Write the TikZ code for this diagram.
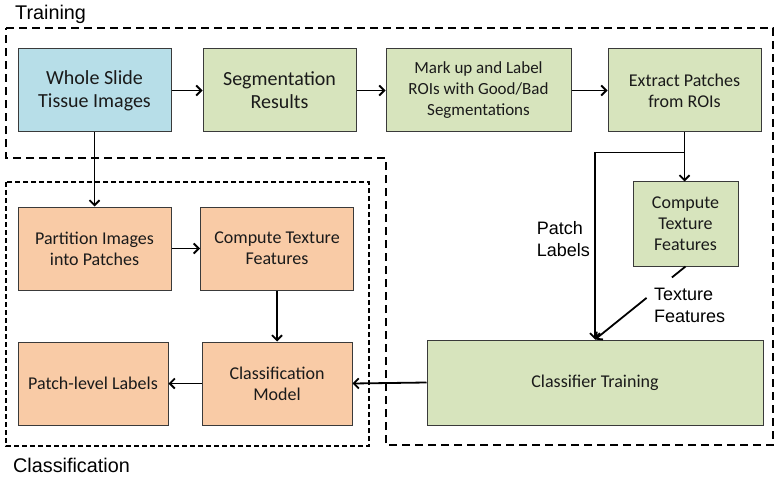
\documentclass[tikz,border=0pt]{standalone}
\usepackage{fontspec}
\setmainfont{Carlito}
\newfontfamily\arialf{Liberation Sans}
\usetikzlibrary{arrows.meta,calc}
\definecolor{bluef}{HTML}{B7DEE8}
\definecolor{greenf}{HTML}{D7E4BD}
\definecolor{orangef}{HTML}{F9CBA6}
\definecolor{edgec}{HTML}{3A3A3A}
\definecolor{txtc}{HTML}{1A1A1A}
\tikzset{
  box/.style={draw=edgec, line width=1pt, inner sep=0pt, align=center, text=txtc},
  bigtxt/.style={font=\fontsize{20}{23}\selectfont},
  smtxt/.style={font=\fontsize{18}{21}\selectfont},
  arr/.style={line width=1.8pt, -{Straight Barb[length=5pt,width=10pt,line width=1.8pt]}},
  plain/.style={line width=1.8pt},
  region/.style={line width=2.3pt, dash pattern=on 8pt off 5pt},
  region2/.style={line width=1.6pt, dash pattern=on 5pt off 3pt},
  lbl/.style={font=\arialf\fontsize{18}{22}\selectfont, align=left, inner sep=0pt, text=black},
  ttl/.style={font=\arialf\fontsize{19.8}{22}\selectfont, inner sep=0pt, text=black},
}
\begin{document}
\begin{tikzpicture}[x=1pt,y=-1pt]
\useasboundingbox (0,0) rectangle (781,481);
% regions
\draw[region] (6,28) -- (773,28) -- (773,445) -- (386,445) -- (386,158) -- (6,158) -- cycle;
\draw[region2] (6,182) rectangle (369,446);
\node[ttl, anchor=base west] (ttrain) at (15,20) {Training};
\node[ttl, anchor=base west] (tclass) at (13,472) {Classification};
% boxes
\node[box, bigtxt, fill=bluef, minimum width=153pt, minimum height=83pt] (ws) at (94.5,90.5) {Whole Slide\\Tissue Images};
\node[box, bigtxt, fill=greenf, minimum width=153pt, minimum height=83pt] (seg) at (279.5,90.5) {Segmentation\\Results};
\node[box, font=\fontsize{17}{21}\selectfont, fill=greenf, minimum width=185pt, minimum height=83pt] (mark) at (478.5,90.5) {Mark up and Label\\ROIs with Good/Bad\\Segmentations};
\node[box, smtxt, fill=greenf, minimum width=153pt, minimum height=83pt] (ext) at (684.5,90.5) {Extract Patches\\from ROIs};
\node[box, smtxt, fill=greenf, minimum width=105pt, minimum height=84pt] (ct2) at (685.5,224) {Compute\\Texture\\Features};
\node[box, smtxt, fill=greenf, minimum width=336pt, minimum height=85pt] (ctrain) at (595,382.5) {Classifier Training};
\node[box, smtxt, fill=orangef, minimum width=153pt, minimum height=83pt] (part) at (94.5,248.5) {Partition Images\\into Patches};
\node[box, smtxt, fill=orangef, minimum width=153pt, minimum height=83pt] (ct1) at (277,248.5) {Compute Texture\\Features};
\node[box, smtxt, fill=orangef, minimum width=150pt, minimum height=83pt] (pll) at (93,383.5) {Patch-level Labels};
\node[box, smtxt, fill=orangef, minimum width=150pt, minimum height=83pt] (cm) at (277,383.5) {Classification\\Model};
% labels
\node[lbl, anchor=east] (plab) at (590,239) {Patch\\Labels};
\node[lbl, anchor=west] (tfeat) at (654,305) {Texture\\Features};
% arrows
\draw[arr] (ws.east) -- (seg.west);
\draw[arr] (seg.east) -- (mark.west);
\draw[arr] (mark.east) -- (ext.west);
\draw[arr] (ext.south) -- (ext.south |- ct2.north);
\coordinate (br) at ($(ext.south)+(0,20)$);
\draw[arr] (br) -| (ctrain.north);
\draw[plain] (ct2.south) -- ($(ct2.south)!0.15!(ctrain.north)$);
\draw[arr] ($(ct2.south)!0.43!(ctrain.north)$) -- (ctrain.north);
\draw[arr] (ws.south) -- (part.north);
\draw[arr] (part.east) -- (ct1.west);
\draw[arr] (ct1.south) -- (ct1.south |- cm.north);
\draw[arr] (cm.west) -- (pll.east);
\draw[arr] (ctrain.west) -- (cm.east);
\end{tikzpicture}
\end{document}
